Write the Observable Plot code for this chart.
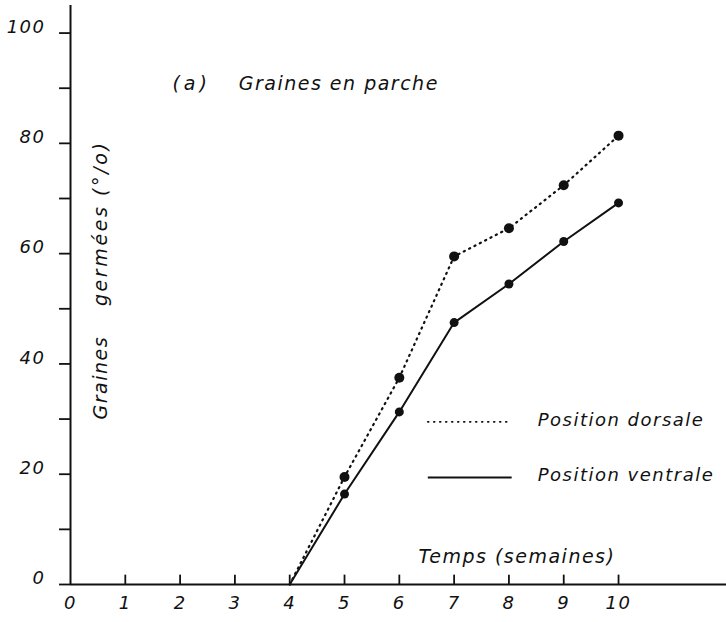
<!DOCTYPE html>
<html><head><meta charset="utf-8">
<script src="https://cdn.jsdelivr.net/npm/d3@7"></script>
<script src="https://cdn.jsdelivr.net/npm/@observablehq/plot@0.6"></script>
<style>body{margin:0;background:#fff}</style>
</head><body><div id="chart"></div>
<script>
// Data
const weeks = [4, 5, 6, 7, 8, 9, 10];
const dorsale = [0, 19.5, 37.5, 59.5, 64.6, 72.4, 81.4];
const ventrale = [0, 16.4, 31.3, 47.5, 54.5, 62.2, 69.2];
const xTicks = [0, 1, 2, 3, 4, 5, 6, 7, 8, 9, 10];
const yTicks = [0, 10, 20, 30, 40, 50, 60, 70, 80, 90, 100];
const yLabels = [0, 20, 40, 60, 80, 100];
const titleTag = "(a)";
const titleText = "Graines en parche";
const xTitle = "Temps (semaines)";
const yTitleA = "Graines";
const yTitleB = "germées (°/o)";
const legendNames = ["Position dorsale", "Position ventrale"];

const dorsalData = weeks.map((w, i) => ({w, v: dorsale[i]}));
const ventralData = weeks.map((w, i) => ({w, v: ventrale[i]}));
const xMax = 11.97, yMax = 105;

const ink = "#111";
const font = {fontFamily: "DejaVu Sans", fontStyle: "italic", fontSize: 18, fill: ink};
const fontL = {...font, fontSize: 19};
const dots = "1.2,4.8";

const legDorsal = [{name: legendNames[0], x1: 6.52, x2: 8.05, y: 29.5}];
const legVentral = [{name: legendNames[1], x1: 6.52, x2: 8.05, y: 19.4}];

const chart = Plot.plot({
  width: 726, height: 622,
  marginLeft: 70, marginRight: 0, marginTop: 5, marginBottom: 38,
  x: {domain: [0, xMax], axis: null},
  y: {domain: [0, yMax], axis: null},
  style: {background: "#fff", letterSpacing: "1.5px"},
  marks: [
    // axes
    Plot.ruleX([0], {y1: 0, y2: yMax, stroke: ink, strokeWidth: 2}),
    Plot.ruleY([0], {x1: 0, x2: xMax, stroke: ink, strokeWidth: 2}),
    Plot.ruleY(yTicks, {y: d => d, x1: -0.2, x2: 0, stroke: ink, strokeWidth: 1.8}),
    Plot.ruleX(xTicks.slice(1), {x: d => d, y1: 0, y2: 1.7, stroke: ink, strokeWidth: 1.8}),
    Plot.text(yLabels, {y: d => d, text: d => String(d), frameAnchor: "left", dx: -25, dy: -6, textAnchor: "end", ...font}),
    Plot.text(xTicks, {x: d => d, text: d => String(d), frameAnchor: "bottom", dy: 24, ...font}),
    // series
    Plot.line(dorsalData, {x: "w", y: "v", stroke: ink, strokeWidth: 2.2, strokeDasharray: dots, strokeLinecap: "round"}),
    Plot.line(ventralData, {x: "w", y: "v", stroke: ink, strokeWidth: 2}),
    Plot.dot(dorsalData.slice(1), {x: "w", y: "v", r: 5, fill: ink}),
    Plot.dot(ventralData.slice(1), {x: "w", y: "v", r: 4.5, fill: ink}),
    // legend
    Plot.link(legDorsal, {x1: "x1", x2: "x2", y1: "y", y2: "y", stroke: ink, strokeWidth: 1.8, strokeDasharray: "0.8,5.2", strokeLinecap: "round"}),
    Plot.link(legVentral, {x1: "x1", x2: "x2", y1: "y", y2: "y", stroke: ink, strokeWidth: 2}),
    Plot.text(legDorsal, {x: "x2", y: "y", text: "name", dx: 26, dy: -2, textAnchor: "start", ...font}),
    Plot.text(legVentral, {x: "x2", y: "y", text: "name", dx: 26, dy: -2, textAnchor: "start", ...font}),
    // titles
    Plot.text([titleTag], {x: 1.86, y: 90.7, text: d => d, textAnchor: "start", ...fontL}),
    Plot.text([titleText], {x: 3.07, y: 90.7, text: d => d, textAnchor: "start", ...fontL}),
    Plot.text([xTitle], {x: 6.35, y: 5.0, text: d => d, textAnchor: "start", ...fontL}),
    Plot.text([yTitleA], {x: 0.55, y: 37.5, text: d => d, rotate: -90, ...fontL}),
    Plot.text([yTitleB], {x: 0.55, y: 65.5, text: d => d, rotate: -90, ...fontL})
  ]
});
d3.select(chart).selectAll("text").filter(function() { return this.textContent === yTitleB; }).style("letter-spacing", "2.6px");
d3.select(chart).selectAll("text").filter(function() { return this.textContent === titleTag; }).style("letter-spacing", "4px");
document.getElementById("chart").appendChild(chart);
</script>
</body></html>
